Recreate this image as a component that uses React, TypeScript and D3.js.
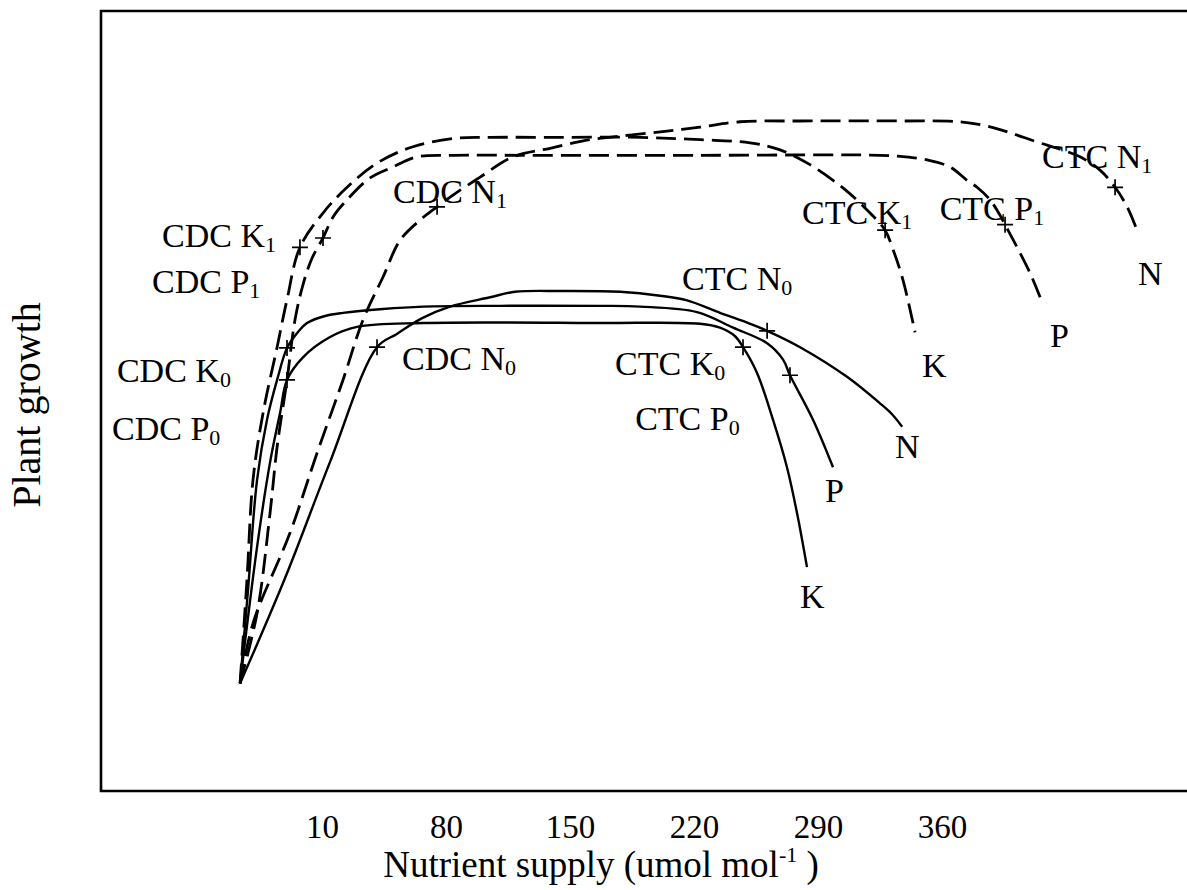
import React from "react";
import * as d3 from "d3";

// ---------- data (x: nutrient supply units, y: relative plant growth 0-100) ----------
const xTickValues = [10, 80, 150, 220, 290, 360];

// dashed (elevated CO2, "1") curves
const k1Curve: [number, number][] = [
  [-36.5, 13.8], [-32.6, 27.1], [-29.2, 39.9], [-23.5, 48.5], [-15.6, 56.9], [-10.0, 63.0],
  [-2.7, 69.7], [10.3, 74.1], [23.9, 77.4], [40.8, 80.5], [61.1, 82.6], [86.0, 83.7],
  [104.6, 83.8], [144.1, 83.8], [189.3, 83.8], [223.1, 83.5], [251.4, 83.1], [268.3, 82.2],
  [285.2, 80.3], [305.0, 77.1], [319.1, 74.1], [327.6, 71.9], [332.1, 69.4], [337.7, 65.5],
  [344.5, 58.8],
];
const p1Curve: [number, number][] = [
  [-36.5, 13.8], [-26.9, 22.8], [-19.6, 35.6], [-15.6, 44.1], [-10.0, 52.7], [-5.5, 60.4],
  [-1.0, 64.9], [4.1, 68.3], [10.3, 70.9], [16.0, 73.6], [23.9, 75.8], [36.9, 78.6],
  [49.8, 80.0], [63.4, 81.3], [83.7, 81.5], [121.5, 81.5], [223.1, 81.5], [324.7, 81.5],
  [338.8, 81.3], [351.3, 80.9], [364.2, 80.0], [373.8, 78.3], [379.5, 77.4], [386.8, 75.8],
  [392.5, 73.8], [395.3, 72.6], [402.1, 69.7], [409.4, 66.4], [415.1, 63.3],
];
const n1Curve: [number, number][] = [
  [-36.5, 13.8], [-29.2, 21.5], [-8.3, 33.1], [6.9, 43.3], [21.6, 52.7], [32.9, 60.4],
  [44.2, 65.9], [53.8, 70.6], [65.1, 73.2], [74.7, 74.9], [83.7, 76.4], [99.0, 78.7],
  [117.6, 81.3], [138.5, 82.4], [161.0, 83.5], [183.6, 84.1], [204.5, 84.6], [223.1, 85.1],
  [245.7, 85.8], [279.6, 85.9], [336.0, 85.9], [369.9, 85.8], [384.0, 85.3], [398.1, 84.4],
  [413.4, 83.2], [424.6, 82.4], [437.6, 81.3], [448.9, 79.6], [457.4, 77.4], [464.2, 74.9],
  [469.8, 71.9],
];

// solid (ambient CO2, "0") curves
const k0Curve: [number, number][] = [
  [-36.5, 13.8], [-32.0, 25.8], [-26.9, 39.9], [-21.3, 47.6], [-15.6, 52.7], [-10.0, 56.8],
  [-4.3, 58.7], [1.3, 60.0], [11.5, 60.9], [21.6, 61.3], [44.2, 61.8], [66.8, 62.1],
  [110.2, 62.2], [166.7, 62.2], [189.3, 62.1], [221.4, 61.4], [241.8, 59.4], [261.0, 57.4],
  [270.0, 55.3], [273.9, 53.3], [286.9, 47.6], [298.2, 41.5],
];
const p0Curve: [number, number][] = [
  [-36.5, 13.8], [-26.9, 31.3], [-19.6, 42.1], [-13.9, 48.5], [-10.0, 52.7], [-1.0, 55.6],
  [14.3, 58.2], [29.5, 59.5], [66.8, 60.0], [166.7, 60.0], [223.1, 59.9], [234.4, 59.4],
  [242.9, 58.3], [247.4, 56.9], [255.3, 53.6], [264.3, 47.6], [272.2, 41.5], [277.9, 35.6],
  [283.5, 28.7],
];
const n0Curve: [number, number][] = [
  [-36.5, 13.8], [-11.1, 27.3], [14.3, 42.2], [40.8, 56.9], [52.0, 58.6], [66.0, 60.6],
  [82.0, 62.1], [104.6, 63.3], [118.7, 64.0], [144.1, 64.1], [178.0, 64.0], [200.6, 63.5],
  [215.8, 62.9], [234.4, 61.3], [251.4, 59.9], [261.0, 59.0], [279.6, 56.9], [306.1, 53.1],
  [324.7, 49.7], [331.5, 48.3], [337.2, 46.7],
];

// "+" markers on the curves
const markerPoints: [number, number][] = [
  [-2.7, 69.7], [327.6, 71.9],
  [10.3, 70.9], [395.3, 72.6],
  [74.7, 74.9], [457.4, 77.4],
  [-10.0, 56.8], [273.9, 53.3],
  [-10.0, 52.7], [247.4, 56.9],
  [40.8, 56.9], [261.0, 59.0],
];

// curve labels: main text, subscript, anchor (x, y) in data units
const labelTexts = [
  "CDC K", "CDC P", "CDC N", "CTC K", "CTC P", "CTC N",
  "CDC K", "CDC P", "CDC N", "CTC N", "CTC K", "CTC P",
  "K", "P", "N", "N", "P", "K",
];
const labelSubs = [
  "1", "1", "1", "1", "1", "1",
  "0", "0", "0", "0", "0", "0",
  "", "", "", "", "", "",
];
const labelAnchors: [number, number][] = [
  [-80.5, 69.7], [-86.2, 63.8], [49.8, 75.4], [280.7, 72.7], [358.4, 73.2], [416.2, 79.9],
  [-106.0, 52.4], [-108.8, 45.0], [54.9, 54.0], [213.0, 64.2], [175.2, 53.3], [186.5, 46.3],
  [348.4, 53.1], [420.7, 56.9], [470.4, 64.9], [333.2, 42.7], [293.7, 37.1], [279.6, 23.5],
];

const xTitle = "Nutrient supply (umol mol";
const xTitleSup = "-1";
const yTitle = "Plant growth";

// ---------- layout ----------
const W = 1187;
const H = 890;
const left = 101;
const right = 1187;
const top = 11;
const bottom = 791;
const FONT = "'Liberation Serif', 'Times New Roman', Times, serif";

export default function App() {
  const x = d3.scaleLinear().domain([-115, 498]).range([left, right]);
  const y = d3.scaleLinear().domain([0, 100]).range([bottom, top]);
  const line = d3
    .line<[number, number]>()
    .x((d) => x(d[0]))
    .y((d) => y(d[1]))
    .curve(d3.curveCatmullRom.alpha(0.5));

  const dashed = [k1Curve, p1Curve, n1Curve];
  const solid = [k0Curve, p0Curve, n0Curve];
  const m = 8;

  return (
    <svg
      width={W}
      height={H}
      style={{ position: "absolute", left: 0, top: 0, display: "block", background: "#fff" }}
      fontFamily={FONT}
    >
      <rect x={0} y={0} width={W} height={H} fill="#fff" />
      {/* frame: left, top, bottom */}
      <path
        d={`M${right},${top}H${left}V${bottom}H${right}`}
        fill="none"
        stroke="#000"
        strokeWidth={2.6}
      />
      {dashed.map((c, i) => (
        <path
          key={"d" + i}
          d={line(c) || ""}
          fill="none"
          stroke="#000"
          strokeWidth={2.8}
          strokeDasharray="20 8"
        />
      ))}
      {solid.map((c, i) => (
        <path key={"s" + i} d={line(c) || ""} fill="none" stroke="#000" strokeWidth={2.4} />
      ))}
      {markerPoints.map((p, i) => (
        <path
          key={"m" + i}
          d={`M${x(p[0]) - m},${y(p[1])}h${2 * m}M${x(p[0])},${y(p[1]) - m}v${2 * m}`}
          stroke="#000"
          strokeWidth={1.7}
        />
      ))}
      {labelTexts.map((t, i) => (
        <text
          key={"l" + i}
          x={x(labelAnchors[i][0])}
          y={y(labelAnchors[i][1])}
          fontSize={34}
          fill="#000"
        >
          {t}
          {labelSubs[i] ? (
            <tspan fontSize={22} dy={5}>
              {labelSubs[i]}
            </tspan>
          ) : null}
        </text>
      ))}
      {xTickValues.map((v) => (
        <text key={"t" + v} x={x(v)} y={838} fontSize={33} textAnchor="middle" fill="#000">
          {v}
        </text>
      ))}
      <text x={601} y={877} fontSize={37} textAnchor="middle" fill="#000">
        {xTitle}
        <tspan fontSize={22} dy={-15}>
          {xTitleSup}
        </tspan>
        <tspan dy={15}> )</tspan>
      </text>
      <text
        transform={`translate(40,405) rotate(-90)`}
        fontSize={40}
        textAnchor="middle"
        fill="#000"
      >
        {yTitle}
      </text>
    </svg>
  );
}
